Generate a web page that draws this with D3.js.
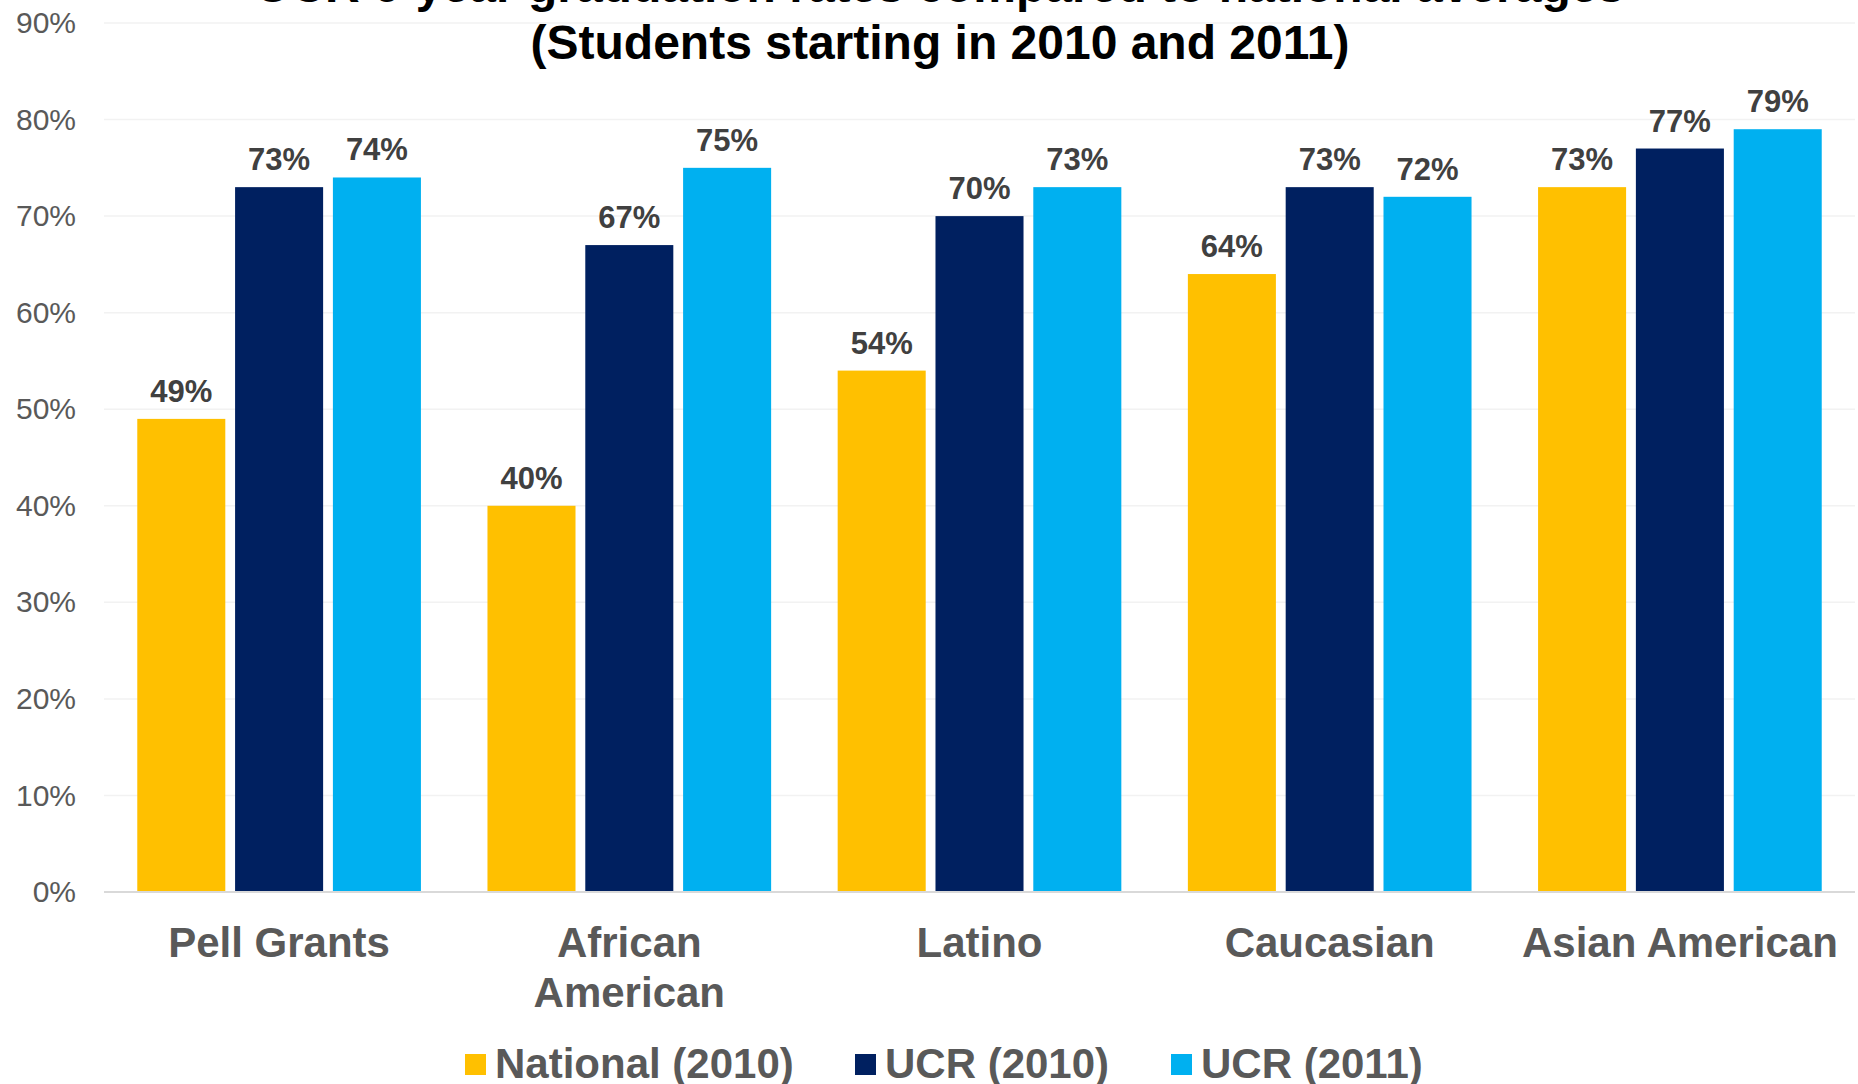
<!DOCTYPE html>
<html>
<head>
<meta charset="utf-8">
<script src="https://cdn.jsdelivr.net/npm/d3@7"></script>
<style>
  html, body { margin: 0; padding: 0; background: #fff; }
  svg { display: block; font-family: "Liberation Sans", Arial, sans-serif; }
</style>
</head>
<body>
<svg id="chart" width="1858" height="1084"></svg>
<script>
const titleLines = ["UCR 6-year graduation rates compared to national averages", "(Students starting in 2010 and 2011)"];
const categories = [["Pell Grants"], ["African", "American"], ["Latino"], ["Caucasian"], ["Asian American"]];
const seriesNames = ["National (2010)", "UCR (2010)", "UCR (2011)"];
const seriesColors = ["#FFC000", "#002060", "#00B0F0"];
const national2010 = [49, 40, 54, 64, 73];
const ucr2010 = [73, 67, 70, 73, 77];
const ucr2011 = [74, 75, 73, 72, 79];
const yTicks = [0, 10, 20, 30, 40, 50, 60, 70, 80, 90];

const seriesValues = [national2010, ucr2010, ucr2011];
const svg = d3.select("#chart");

const plotLeft = 104, plotRight = 1855, plotTop = 23, plotBottom = 892;

const y = d3.scaleLinear().domain([0, 90]).range([plotBottom, plotTop]);
const catKeys = categories.map(c => c.join(" "));
const x0 = d3.scaleBand().domain(catKeys).range([plotLeft, plotRight]).paddingInner(0.19).paddingOuter(0.095);
const x1 = d3.scaleBand().domain(seriesNames).range([0, x0.bandwidth()]).paddingInner(0.1);

// gridlines
svg.append("g").selectAll("line").data(yTicks.filter(t => t > 0)).join("line")
  .attr("x1", plotLeft).attr("x2", plotRight)
  .attr("y1", d => y(d)).attr("y2", d => y(d))
  .attr("stroke", "#F2F2F2").attr("stroke-width", 1.5);

// y axis labels
const yAxis = d3.axisLeft(y).tickValues(yTicks).tickFormat(d => d + "%").tickSize(0).tickPadding(0);
const yg = svg.append("g").attr("transform", `translate(${plotLeft - 28},0)`).call(yAxis);
yg.select(".domain").remove();
yg.selectAll("text").attr("font-size", 30).attr("fill", "#595959")
  .attr("font-family", '"Liberation Sans", Arial, sans-serif');

// bars
const groups = svg.append("g").selectAll("g").data(catKeys).join("g")
  .attr("transform", d => `translate(${x0(d)},0)`);
groups.each(function(cat, ci) {
  const g = d3.select(this);
  seriesNames.forEach((s, si) => {
    const v = seriesValues[si][ci];
    g.append("rect")
      .attr("x", x1(s)).attr("width", x1.bandwidth())
      .attr("y", y(v)).attr("height", y(0) - y(v))
      .attr("fill", seriesColors[si]);
    g.append("text")
      .attr("x", x1(s) + x1.bandwidth() / 2)
      .attr("y", y(v) - 17)
      .attr("text-anchor", "middle")
      .attr("font-size", 31).attr("font-weight", "bold")
      .attr("fill", "#404040")
      .text(v + "%");
  });
});

// x axis baseline
svg.append("line").attr("x1", plotLeft).attr("x2", plotRight)
  .attr("y1", y(0)).attr("y2", y(0))
  .attr("stroke", "#D9D9D9").attr("stroke-width", 2);

// category labels
const catLabels = svg.append("g").selectAll("text").data(categories).join("text")
  .attr("x", (d, i) => x0(catKeys[i]) + x0.bandwidth() / 2)
  .attr("y", 957)
  .attr("text-anchor", "middle")
  .attr("font-size", 42).attr("font-weight", "bold").attr("fill", "#595959");
catLabels.each(function(lines) {
  const t = d3.select(this);
  const cx = t.attr("x");
  lines.forEach((ln, li) => {
    t.append("tspan").attr("x", cx).attr("dy", li === 0 ? 0 : 50).text(ln);
  });
});

// title
svg.append("g").selectAll("text").data(titleLines).join("text")
  .attr("x", 940).attr("y", (d, i) => 2 + i * 57)
  .attr("text-anchor", "middle")
  .attr("font-size", 48).attr("font-weight", "bold").attr("fill", "#000")
  .text(d => d);

// legend
const legendX = [465, 855, 1171];
const lg = svg.append("g").selectAll("g").data(seriesNames).join("g")
  .attr("transform", (d, i) => `translate(${legendX[i]},0)`);
lg.append("rect").attr("x", 0).attr("y", 1054).attr("width", 21).attr("height", 21)
  .attr("fill", (d, i) => seriesColors[i]);
lg.append("text").attr("x", 30).attr("y", 1078)
  .attr("font-size", 42).attr("font-weight", "bold").attr("fill", "#595959")
  .text(d => d);
</script>
</body>
</html>
